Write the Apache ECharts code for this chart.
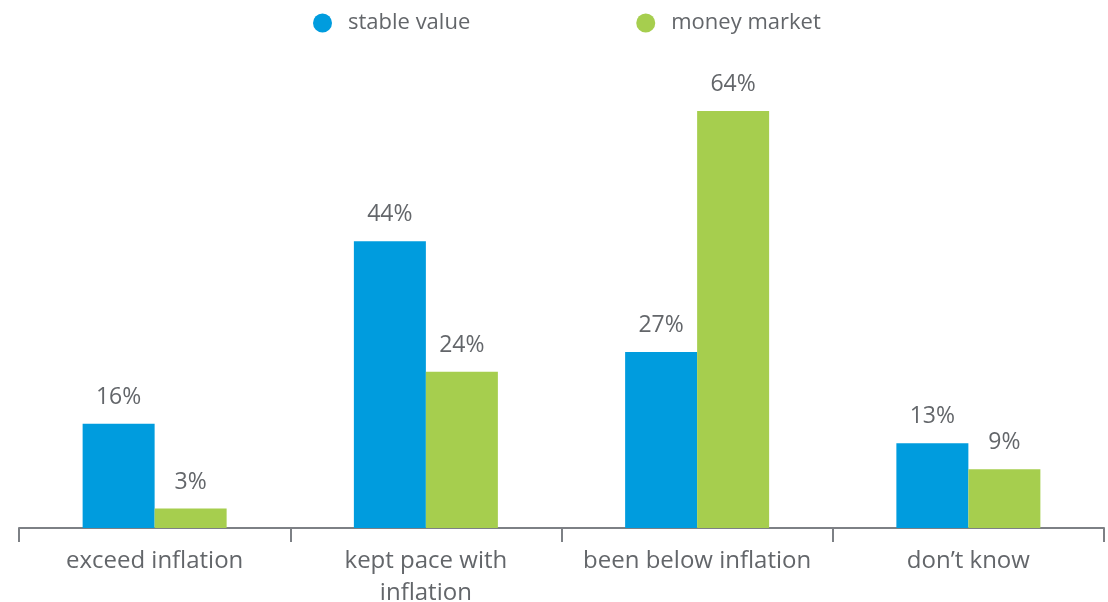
<!DOCTYPE html>
<html lang="en">
<head>
    <meta charset="UTF-8">
    <title>stable value vs money market</title>
    <style>
      html, body { margin: 0; padding: 0; background: #fff; }
      #chart { width: 1108px; height: 602px; }
    </style>
</head>
<body>
    <div id="chart"></div>
</body>
<script src="https://cdn.jsdelivr.net/npm/echarts@6/dist/echarts.min.js"></script>
<script>
var categories = ['exceed inflation', 'kept pace with\ninflation', 'been below inflation', 'don\u2019t know'];
var stableValue = [16, 44, 27, 13];
var moneyMarket = [3, 24, 64, 9];
var seriesNames = ['stable value', 'money market'];

var textColor = '#63666a';
var fontName = 'Open Sans';

function valueLabel() {
  return {
    show: true,
    position: 'top',
    distance: 15,
    color: textColor,
    fontFamily: fontName,
    fontSize: 23,
    formatter: '{c}%'
  };
}

var chart = echarts.init(document.getElementById('chart'));
var option = {
  animation: false,
  legend: {
    left: 308,
    top: 7,
    icon: 'circle',
    itemWidth: 19,
    itemHeight: 19,
    itemGap: 166,
    textStyle: { color: textColor, fontFamily: fontName, fontSize: 22, padding: [0, 0, 0, 11] },
    data: seriesNames
  },
  grid: { left: 19, right: 4, top: 72, bottom: 74, outerBoundsMode: 'none', containLabel: false },
  xAxis: {
    type: 'category',
    data: categories,
    axisLine: { lineStyle: { color: '#7d8085', width: 2 } },
    axisTick: { show: true, interval: 0, length: 14, lineStyle: { color: '#7d8085', width: 2 } },
    axisLabel: { interval: 0, color: textColor, fontFamily: fontName, fontSize: 24, lineHeight: 32, margin: 17 }
  },
  yAxis: { type: 'value', min: 0, max: 70, show: false, splitLine: { show: false } },
  series: [
    {
      name: seriesNames[0],
      type: 'bar',
      barWidth: 72,
      barGap: '0%',
      itemStyle: { color: '#009cde' },
      label: valueLabel(),
      data: stableValue
    },
    {
      name: seriesNames[1],
      type: 'bar',
      barWidth: 72,
      itemStyle: { color: '#a6ce4e' },
      label: valueLabel(),
      data: moneyMarket
    }
  ]
};
chart.setOption(option);
</script>
</html>
